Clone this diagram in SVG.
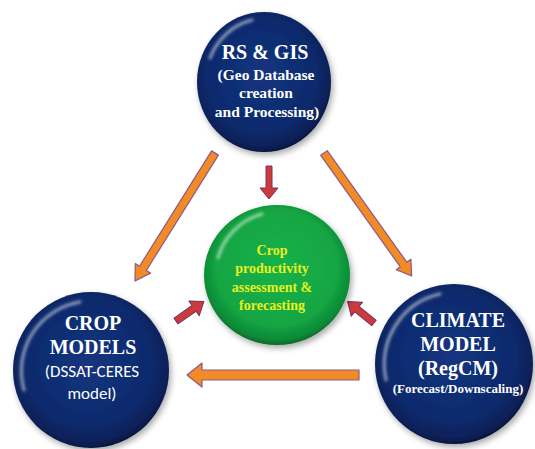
<svg xmlns="http://www.w3.org/2000/svg" width="535" height="449" viewBox="0 0 535 449">
  <defs>
    <radialGradient id="gBlue" cx="0.48" cy="0.45" r="0.55">
      <stop offset="0" stop-color="#14357f"/>
      <stop offset="0.75" stop-color="#0d2a6c"/>
      <stop offset="0.93" stop-color="#0a2058"/>
      <stop offset="1" stop-color="#061640"/>
    </radialGradient>
    <radialGradient id="gGreen" cx="0.5" cy="0.45" r="0.55">
      <stop offset="0" stop-color="#18b24a"/>
      <stop offset="0.75" stop-color="#13a543"/>
      <stop offset="0.93" stop-color="#0d8a36"/>
      <stop offset="1" stop-color="#08682a"/>
    </radialGradient>
    <filter id="shadow" x="-20%" y="-20%" width="140%" height="140%">
      <feGaussianBlur in="SourceAlpha" stdDeviation="3"/>
      <feOffset dx="2" dy="3"/>
      <feComponentTransfer><feFuncA type="linear" slope="0.35"/></feComponentTransfer>
      <feMerge><feMergeNode/><feMergeNode in="SourceGraphic"/></feMerge>
    </filter>
    <filter id="blur1"><feGaussianBlur stdDeviation="1.5"/></filter>
  </defs>
  <style>
    .hl { fill: none; stroke: #ffffff; stroke-opacity: 0.55; stroke-width: 3; stroke-linecap: round; filter: url(#blur1); }
    .tb { font-family: "Liberation Serif", "Times New Roman", serif; font-weight: bold; fill: #ffffff; text-anchor: middle; }
    .ty { font-family: "Liberation Serif", "Times New Roman", serif; font-weight: bold; fill: #e6f01e; text-anchor: middle; font-size: 14px; }
    .ts { font-family: "Carlito", "Liberation Sans", Arial, sans-serif; fill: #ffffff; text-anchor: middle; font-size: 17px; }
    .orange { fill: #f28a26; stroke: #8c5a88; stroke-width: 1.2; stroke-linejoin: round; }
    .red { fill: #cc3a3c; stroke: #7a3060; stroke-width: 1; stroke-linejoin: round; }
  </style>

  <g id="connectors">
    <polygon class="orange" transform="translate(215,153) rotate(122)" points="0,-4 136,-4 136,-9 151,0 136,9 136,4 0,4"/>
    <polygon class="orange" transform="translate(324,153) rotate(54.5)" points="0,-4 137,-4 137,-9 151,0 137,9 137,4 0,4"/>
    <polygon class="orange" points="359,370 202,370 202,363 187,375 202,387 202,380 359,380"/>
    <polygon class="red" points="266,166 272,166 272,188 278,188 269,199 260,188 266,188"/>
    <polygon class="red" transform="translate(176,321) rotate(-35)" points="0,-3.5 22,-3.5 22,-9 34,0 22,9 22,3.5 0,3.5"/>
    <polygon class="red" transform="translate(374,323) rotate(-141)" points="0,-3.5 22,-3.5 22,-9 34,0 22,9 22,3.5 0,3.5"/>
  </g>

  <g id="node-rsgis">
    <ellipse cx="264" cy="82" rx="67" ry="70" fill="url(#gBlue)" filter="url(#shadow)"/>
    <path class="hl" d="M210,58 A60,64 0 0 1 252,20"/>
    <text class="tb" x="265" y="59" font-size="20">RS &amp; GIS</text>
    <text class="tb" x="266" y="80" font-size="15.5">(Geo Database</text>
    <text class="tb" x="266" y="98" font-size="15.5">creation</text>
    <text class="tb" x="267" y="117" font-size="15.5">and Processing)</text>
  </g>

  <g id="node-center">
    <ellipse cx="277" cy="275" rx="73" ry="70" fill="url(#gGreen)" filter="url(#shadow)"/>
    <path class="hl" d="M218,258 A64,62 0 0 1 262,214" stroke-opacity="0.6"/>
    <text class="ty" x="272" y="255">Crop</text>
    <text class="ty" x="272" y="273">productivity</text>
    <text class="ty" x="272" y="292">assessment &amp;</text>
    <text class="ty" x="272" y="310">forecasting</text>
  </g>

  <g id="node-crop">
    <ellipse cx="91" cy="370" rx="78" ry="78" fill="url(#gBlue)" filter="url(#shadow)"/>
    <path class="hl" d="M24,390 A70,70 0 0 1 80,302"/>
    <text class="tb" x="93" y="330" font-size="20">CROP</text>
    <text class="tb" x="93" y="354" font-size="20">MODELS</text>
    <text class="ts" x="92" y="377">(DSSAT-CERES</text>
    <text class="ts" x="92" y="399">model)</text>
  </g>

  <g id="node-climate">
    <ellipse cx="454" cy="364" rx="79" ry="80" fill="url(#gBlue)" filter="url(#shadow)"/>
    <path class="hl" d="M386,380 A70,72 0 0 1 440,294"/>
    <text class="tb" x="458" y="327" font-size="20">CLIMATE</text>
    <text class="tb" x="458" y="351" font-size="20">MODEL</text>
    <text class="tb" x="458" y="375" font-size="20">(RegCM)</text>
    <text class="tb" x="458" y="393" font-size="13">(Forecast/Downscaling)</text>
  </g>
</svg>
